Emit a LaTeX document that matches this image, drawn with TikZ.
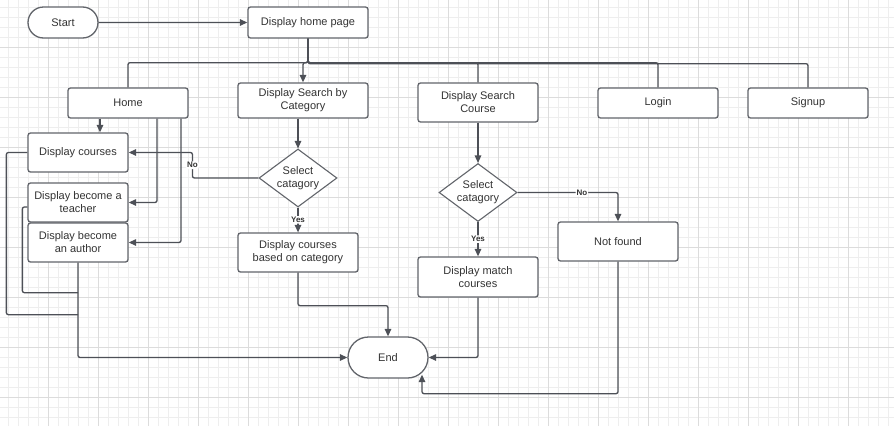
\documentclass[tikz,border=0pt]{standalone}
\usepackage{fontspec}
\setmainfont{Liberation Sans}
\usepackage{xcolor}
\usetikzlibrary{shapes.geometric, shapes.misc, arrows.meta, positioning, calc}

\definecolor{edgegray}{HTML}{4D5057}
\definecolor{boxgray}{HTML}{62656B}
\definecolor{textgray}{HTML}{333333}
\definecolor{gridminor}{HTML}{EEEEEE}
\definecolor{gridmajor}{HTML}{DCDCDC}

\tikzset{
  procbox/.style={draw=boxgray, line width=1.3pt, rounded corners=2.5pt, fill=white,
    align=center, text=textgray, font=\fontsize{11}{13}\selectfont, inner sep=0pt,
    minimum width=120pt, minimum height=30pt},
  termbox/.style={draw=boxgray, line width=1.3pt, rounded rectangle, fill=white,
    text=textgray, font=\fontsize{11}{13}\selectfont, inner sep=0pt},
  decbox/.style={draw=boxgray, line width=1.1pt, diamond, aspect=1.35, fill=white,
    align=center, text=textgray, font=\fontsize{11}{13}\selectfont, inner sep=0pt,
    minimum width=78pt, minimum height=58pt},
  flow/.style={draw=edgegray, line width=1.3pt, rounded corners=2pt,
    -{Triangle[length=7.5pt,width=6.5pt]}},
  link/.style={draw=edgegray, line width=1.3pt, rounded corners=2pt},
  yesno/.style={fill=white, inner sep=1pt, text=textgray,
    font=\fontsize{8}{9}\selectfont\bfseries}
}

\begin{document}
\begin{tikzpicture}[x=1pt, y=-1pt]
  \useasboundingbox (0,0) rectangle (894,426);
  \fill[white] (0,0) rectangle (894,426);
  % grid
  \foreach \gx in {8,18,...,888} \draw[gridminor, line width=0.6pt] (\gx,0) -- (\gx,426);
  \foreach \gy in {7,17,...,417} \draw[gridminor, line width=0.6pt] (0,\gy) -- (894,\gy);
  \foreach \gx in {48,98,...,848} \draw[gridmajor, line width=0.7pt] (\gx,0) -- (\gx,426);
  \foreach \gy in {47,97,...,397} \draw[gridmajor, line width=0.7pt] (0,\gy) -- (894,\gy);

  % nodes
  \node[termbox, minimum width=70pt, minimum height=31pt] (start) at (63,22.5) {Start};
  \node[procbox, minimum height=31pt] (homepage) at (308,22.5) {Display home page};

  \node[procbox] (home) at (128,103) {Home};
  \node[procbox, minimum width=130pt, minimum height=35pt] (searchcat) at (303,100.5) {Display Search by\\Category};
  \node[procbox, minimum height=39pt] (searchcourse) at (478,102.5) {Display Search\\Course};
  \node[procbox] (login) at (658,103) {Login};
  \node[procbox] (signup) at (808,103) {Signup};

  \node[procbox, minimum width=100pt, minimum height=39pt] (courses) at (78,152.5) {Display courses};
  \node[procbox, minimum width=100pt, minimum height=39pt] (teacher) at (78,202.5) {Display become a\\teacher};
  \node[procbox, minimum width=100pt, minimum height=39pt] (author) at (78,242.5) {Display become\\an author};

  \node[decbox] (dec1) at (298,178) {Select\\catagory};
  \node[procbox, minimum height=39pt] (bycat) at (298,252.5) {Display courses\\based on category};

  \node[decbox] (dec2) at (478,192.5) {Select\\catagory};
  \node[procbox, minimum height=40pt] (match) at (478,277) {Display match\\courses};
  \node[procbox, minimum height=39pt] (notfound) at (618,241.5) {Not found};

  \node[termbox, minimum width=80pt, minimum height=41pt] (end) at (388,357.5) {End};

  % connectors
  \draw[flow] (start) -- (homepage);
  \draw[link] (homepage.south) -- ++(0,24) -| (home.north);
  \draw[flow] (homepage.south) -- ++(0,24) -| (searchcat.north);
  \draw[link] (homepage.south) -- ++(0,24) -| (searchcourse.north);
  \draw[link] (homepage.south) -- ++(0,24) -| (login.north);
  \draw[link] (homepage.south) -- ++(0,25) -| (signup.north);

  \draw[flow] ($(home.south)+(-28,0)$) -- ($(courses.north)+(22,0)$);
  \draw[flow] ($(home.south)+(29,0)$) |- (teacher.east);
  \draw[flow] ($(home.south)+(53,0)$) |- (author.east);

  \draw[flow] (searchcat.south -| dec1.north) -- (dec1.north);
  \draw[flow] (dec1.west) -- ++(-66,0) -- node[yesno]{No} ++(0,-25.5) -- (courses.east);
  \draw[flow] (dec1.south) -- node[yesno]{Yes} (bycat.north);
  \draw[flow] (bycat.south) -- ++(0,33) -| (end.north);

  \draw[flow] (author.south) |- (end.west);
  \draw[link] ($(teacher.west)+(0,4.5)$) -- ++(-5,0) |- ($(author.south)+(0,30)$);
  \draw[link] (courses.west) -- ++(-21,0) |- ($(author.south)+(0,52)$);

  \draw[flow] (searchcourse.south) -- (dec2.north);
  \draw[flow] (dec2.south) -- node[yesno]{Yes} (match.north);
  \draw[flow] (dec2.east) -| node[yesno, pos=0.32]{No} (notfound.north);
  \draw[flow] (match.south) |- (end.east);
  \draw[flow] (notfound.south) -- ++(0,132) -| ($(end.south)+(34,-4)$);
\end{tikzpicture}
\end{document}
